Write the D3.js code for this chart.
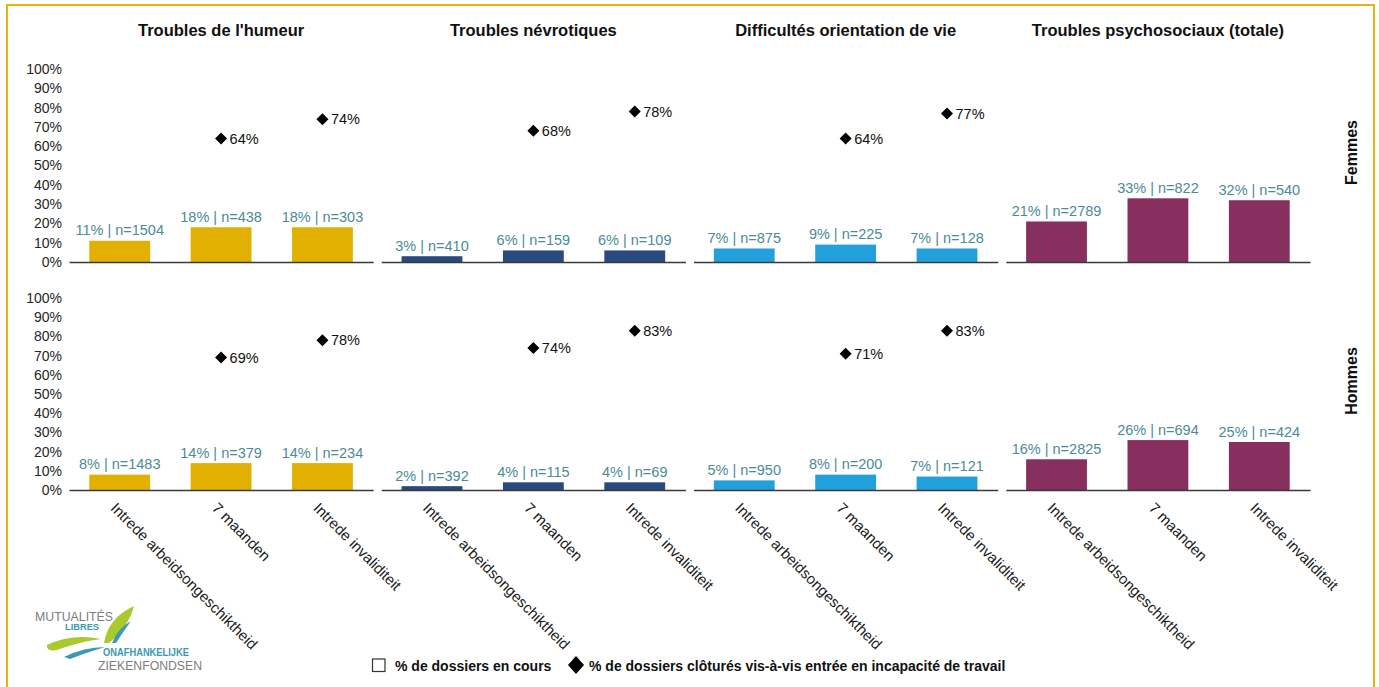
<!DOCTYPE html>
<html>
<head>
<meta charset="utf-8">
<script src="https://cdn.jsdelivr.net/npm/d3@7"></script>
<style>
  body { margin: 0; background: #fff; }
  svg { display: block; font-family: "Liberation Sans", Arial, sans-serif; }
</style>
</head>
<body>
<svg id="chart" width="1379" height="687"></svg>
<script>
// categories / series
var panels = ["Troubles de l'humeur", "Troubles névrotiques", "Difficultés orientation de vie", "Troubles psychosociaux (totale)"];
var categories = ["Intrede arbeidsongeschiktheid", "7 maanden", "Intrede invaliditeit"];
var rowNames = ["Femmes", "Hommes"];
var yTicks = [0, 10, 20, 30, 40, 50, 60, 70, 80, 90, 100];
var panelColors = ["#e1b000", "#284a7e", "#22a0dc", "#87305f"];

// % de dossiers en cours, per panel
var femmesPct = [[11, 18, 18], [3, 6, 6], [7, 9, 7], [21, 33, 32]];
var femmesN = [[1504, 438, 303], [410, 159, 109], [875, 225, 128], [2789, 822, 540]];
var femmesClosed = [[null, 64, 74], [null, 68, 78], [null, 64, 77], [null, null, null]];

var hommesPct = [[8, 14, 14], [2, 4, 4], [5, 8, 7], [16, 26, 25]];
var hommesN = [[1483, 379, 234], [392, 115, 69], [950, 200, 121], [2825, 694, 424]];
var hommesClosed = [[null, 69, 78], [null, 74, 83], [null, 71, 83], [null, null, null]];

var svg = d3.select("#chart");

// frame
svg.append("rect")
  .attr("x", 7).attr("y", 5).attr("width", 1367).attr("height", 690)
  .attr("fill", "none").attr("stroke", "#e5b50c").attr("stroke-width", 2);

var px = d3.scaleBand().domain(panels).range([69, 1310]).paddingInner(0.026).paddingOuter(0);

var rows = [
  {name: rowNames[0], pct: femmesPct, n: femmesN, closed: femmesClosed, y: d3.scaleLinear().domain([0, 100]).range([262, 69]), labels: false},
  {name: rowNames[1], pct: hommesPct, n: hommesN, closed: hommesClosed, y: d3.scaleLinear().domain([0, 100]).range([490, 298]), labels: true}
];

// titles
svg.selectAll(".ptitle")
  .data(panels)
  .enter().append("text")
  .attr("class", "ptitle")
  .attr("x", function(d) { return px(d) + px.bandwidth() / 2; })
  .attr("y", 36)
  .attr("text-anchor", "middle")
  .attr("font-size", 16.5)
  .attr("font-weight", "bold")
  .attr("fill", "#111")
  .text(function(d) { return d; });

var diamond = d3.symbol().type(d3.symbolSquare).size(72);

rows.forEach(function(row) {
  var y = row.y;

  // y axis, only left of the first panel
  var ya = svg.append("g")
    .attr("transform", "translate(" + 62 + ",0)")
    .call(d3.axisLeft(y).tickValues(yTicks).tickSize(0).tickPadding(0).tickFormat(function(d) { return d + "%"; }));
  ya.select(".domain").remove();
  ya.selectAll("text")
    .attr("font-size", 14)
    .attr("font-family", "Liberation Sans, Arial, sans-serif")
    .attr("fill", "#262626");

  panels.forEach(function(p, pi) {
    var x = d3.scaleBand().domain(categories)
      .range([px(p), px(p) + px.bandwidth()])
      .paddingInner(0.4).paddingOuter(0.2);
    var g = svg.append("g");

    g.selectAll(".bar")
      .data(row.pct[pi])
      .enter().append("rect")
      .attr("class", "bar")
      .attr("x", function(_, i) { return x(categories[i]); })
      .attr("y", function(d) { return y(d); })
      .attr("width", x.bandwidth())
      .attr("height", function(d) { return y(0) - y(d); })
      .attr("fill", panelColors[pi]);

    g.selectAll(".blabel")
      .data(row.pct[pi])
      .enter().append("text")
      .attr("class", "blabel")
      .attr("x", function(_, i) { return x(categories[i]) + x.bandwidth() / 2; })
      .attr("y", function(d) { return y(d) - 5.5; })
      .attr("text-anchor", "middle")
      .attr("font-size", 14.5)
      .attr("fill", "#4b8b96")
      .text(function(d, i) { return d + "% | n=" + row.n[pi][i]; });

    var pts = row.closed[pi]
      .map(function(v, i) { return {v: v, c: categories[i]}; })
      .filter(function(d) { return d.v !== null; });

    g.selectAll(".dm")
      .data(pts)
      .enter().append("path")
      .attr("class", "dm")
      .attr("d", diamond)
      .attr("transform", function(d) {
        return "translate(" + (x(d.c) + x.bandwidth() / 2) + "," + y(d.v) + ") rotate(45)";
      })
      .attr("fill", "#000");

    g.selectAll(".dlabel")
      .data(pts)
      .enter().append("text")
      .attr("class", "dlabel")
      .attr("x", function(d) { return x(d.c) + x.bandwidth() / 2 + 8.5; })
      .attr("y", function(d) { return y(d.v); })
      .attr("dy", "0.36em")
      .attr("font-size", 14.5)
      .attr("fill", "#111")
      .text(function(d) { return d.v + "%"; });

    // baseline axis
    var xa = g.append("g")
      .attr("transform", "translate(0," + y(0) + ")")
      .call(d3.axisBottom(x).tickSize(0).tickSizeOuter(0));
    xa.select(".domain").attr("stroke", "#3a3a3a").attr("stroke-width", 1.6);
    if (row.labels) {
      xa.selectAll("text")
        .attr("x", 0).attr("y", 0).attr("dy", 0)
        .attr("transform", "translate(-10,19) rotate(45)")
        .attr("text-anchor", "start")
        .attr("font-size", 15)
        .attr("font-family", "Liberation Sans, Arial, sans-serif")
        .attr("fill", "#1a1a1a");
    } else {
      xa.selectAll("text").remove();
    }
  });

  // row label
  var mid = (y(0) + y(100)) / 2 - 13;
  svg.append("text")
    .attr("transform", "translate(1357," + mid + ") rotate(-90)")
    .attr("text-anchor", "middle")
    .attr("font-size", 16)
    .attr("font-weight", "bold")
    .attr("fill", "#111")
    .text(row.name);
});

// legend
var lg = svg.append("g");
lg.append("rect")
  .attr("x", 372.5).attr("y", 659).attr("width", 12.5).attr("height", 12.5)
  .attr("fill", "none").attr("stroke", "#333").attr("stroke-width", 1.2);
lg.append("text")
  .attr("x", 395).attr("y", 671)
  .attr("font-size", 14).attr("font-weight", "bold").attr("fill", "#111")
  .text("% de dossiers en cours");
lg.append("path")
  .attr("d", "M576,656 L584,665 L576,674 L568,665 Z")
  .attr("fill", "#000");
lg.append("text")
  .attr("x", 589).attr("y", 671)
  .attr("font-size", 14).attr("font-weight", "bold").attr("fill", "#111")
  .text("% de dossiers clôturés vis-à-vis entrée en incapacité de travail");

// logo
var logo = svg.append("g");
logo.append("path").attr("d", "M47,645 Q72,633 101,639 Q78,642 57,650 Q46,652 47,645 Z").attr("fill", "#a9c92c");
logo.append("path").attr("d", "M104,643 Q108,618 134,606 Q129,626 109,643 Z").attr("fill", "#a9c92c");
logo.append("path").attr("d", "M64,657 Q84,647 105,647 Q88,652 70,659 Z").attr("fill", "#3a9ab2");
logo.append("path").attr("d", "M112,643 Q118,628 131,621 Q123,632 116,643 Z").attr("fill", "#3a9ab2");
logo.append("text").attr("x", 35).attr("y", 621).attr("font-size", 13.5).attr("fill", "#7d7d7d")
  .attr("textLength", 78).attr("lengthAdjust", "spacingAndGlyphs").text("MUTUALITÉS");
logo.append("text").attr("x", 65).attr("y", 629.5).attr("font-size", 8.5).attr("font-weight", "bold").attr("fill", "#3a9ab2")
  .attr("textLength", 34).attr("lengthAdjust", "spacingAndGlyphs").text("LIBRES");
logo.append("text").attr("x", 103).attr("y", 656).attr("font-size", 10).attr("font-weight", "bold").attr("fill", "#3a9ab2")
  .attr("textLength", 86).attr("lengthAdjust", "spacingAndGlyphs").text("ONAFHANKELIJKE");
logo.append("text").attr("x", 98).attr("y", 670).attr("font-size", 13.5).attr("fill", "#7d7d7d")
  .attr("textLength", 104).attr("lengthAdjust", "spacingAndGlyphs").text("ZIEKENFONDSEN");
</script>
</body>
</html>
